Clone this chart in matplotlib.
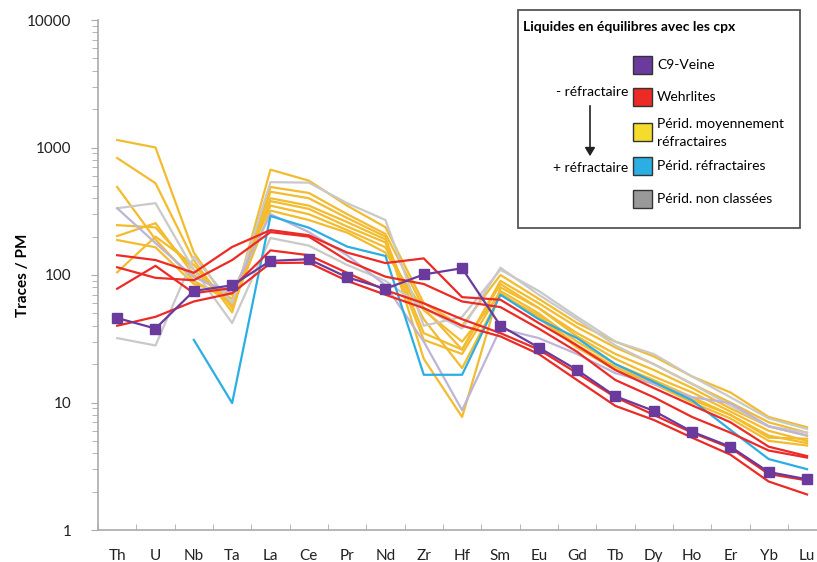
import numpy as np
import matplotlib
matplotlib.use("Agg")
from matplotlib import pyplot as plt
from matplotlib.patches import Rectangle, FancyArrowPatch

plt.rcParams['font.family'] = ['Lato', 'DejaVu Sans']

elements = ["Th", "U", "Nb", "Ta", "La", "Ce", "Pr", "Nd", "Zr", "Hf",
            "Sm", "Eu", "Gd", "Tb", "Dy", "Ho", "Er", "Yb", "Lu"]

# C9-Veine
veine = [46, 38, 75, 83, 129, 133, 96, 78, 101, 113, 40, 27, 18, 11.2, 8.6, 5.9, 4.5, 2.85, 2.5]

# Wehrlites
wehrlites = [
    [143, 131, 104, 166, 225, 205, 150, 124, 135, 67, 64, 42, 28, 18, 13, 9.5, 7, 4.5, 3.8],
    [115, 95, 91, 131, 217, 200, 130, 97, 85, 62, 56, 38, 25, 15, 11, 7.7, 5.8, 4.2, 3.7],
    [78, 118, 72, 79, 156, 143, 104, 76, 60, 45, 35, 26, 17, 11, 8, 5.8, 4.4, 2.75, 2.45],
    [40, 47, 62, 72, 124, 125, 90, 70, 55, 40, 33, 24, 15, 9.4, 7.3, 5.3, 3.9, 2.4, 1.9],
]

# Périd. moyennement réfractaires
moyens = [
    [1145, 1000, 150, 55, 670, 550, 350, 237, 60, 40, 100, 65, 42, 30, 23, 16, 12, 7.7, 6.4],
    [827, 525, 130, 51, 490, 440, 300, 210, 55, 26, 90, 60, 39, 27, 20, 14, 10, 7, 5.8],
    [490, 190, 90, 61, 450, 400, 280, 200, 22, 7.7, 80, 55, 35, 24, 18, 13, 9, 6.5, 5.5],
    [246, 236, 110, 58, 400, 350, 260, 190, 35, 26, 85, 55, 33, 22, 16, 12, 8.5, 6, 5],
    [202, 255, 100, 65, 380, 330, 240, 180, 31, 24, 75, 50, 30, 20, 15, 11, 8, 5.5, 4.8],
    [188, 165, 85, 70, 350, 300, 225, 165, 45, 18.6, 70, 48, 28, 19, 14, 10, 7.5, 5, 4.6],
    [105, 200, 120, 56, 320, 270, 215, 150, 53, 30, 72, 46, 27, 18, 14, 10.5, 8, 5.3, 5.2],
]

# Périd. réfractaires
refractaires = [np.nan, np.nan, 31, 9.9, 290, 235, 167, 141, 16.5, 16.5,
                70, 45, 32, 20, 14.5, 10.4, 6.1, 3.6, 3.0]

# Périd. non classées
non_classees = [
    [334, 366, 110, 42, 195, 170, 120, 90, 55, 38, 114, 70, 45, 28, 20, 14, 9.5, 6.5, 5.8],
    [32, 28, 139, 60, 535, 530, 366, 270, 40, 47, 110, 75, 47, 30, 24, 16, 11, 7.5, 6.2],
]
lavande = [334, 178, 96, 72, 300, 217, 143, 83, 30, 8.7, 38, 32, 24, 17, 14, 11, 9.9, 6.5, 5.5]

c_purple = "#6A3A9C"
c_red = "#EC2A26"
c_yellow = "#F3BB2E"
c_blue = "#2AAEE3"
c_gray = "#C9C9C9"
c_lav = "#BDB4D8"

W, H = 817, 562
fig = plt.figure(figsize=(W / 100, H / 100), dpi=100)


def fx(x):
    return x / W


def fy(y):
    return 1 - y / H


ax = fig.add_axes([fx(98), fy(530), fx(817) - fx(98), fy(20) - fy(530)])
x = np.arange(len(elements))

for s in moyens:
    ax.plot(x, s, color=c_yellow, lw=1.6)
for s in non_classees:
    ax.plot(x, s, color=c_gray, lw=1.6)
ax.plot(x, lavande, color=c_lav, lw=1.6)
ax.plot(x, refractaires, color=c_blue, lw=1.6)
for s in wehrlites:
    ax.plot(x, s, color=c_red, lw=1.6)
ax.plot(x, veine, color=c_purple, lw=1.6, marker="s", markersize=7.5)

ax.set_yscale("log")
ax.set_ylim(1, 10000)
ax.set_xlim(-0.5, 18.26)
ax.set_xticks(x)
ax.set_xticklabels(elements, fontsize=11, color="#222222")
ax.set_xticks(np.arange(-0.5, 18.5, 1), minor=True)
ax.tick_params(axis="x", which="major", length=0, pad=14)
ax.tick_params(axis="x", which="minor", length=4, color="#AAAAAA", direction="in")
ax.set_yticks([1, 10, 100, 1000, 10000])
ax.set_yticklabels(["1", "10", "100", "1000", "10000"], fontsize=11, color="#222222")
ax.tick_params(axis="y", which="major", length=5, color="#AAAAAA", pad=14)
ax.tick_params(axis="y", which="minor", length=4, color="#AAAAAA")
for side in ["top", "right"]:
    ax.spines[side].set_visible(False)
for side in ["left", "bottom"]:
    ax.spines[side].set_color("#AAAAAA")
    ax.spines[side].set_linewidth(1.2)
ax.set_ylabel("Traces / PM", fontsize=11, fontweight="bold")
ax.yaxis.set_label_coords((30 - 98) / (817 - 98), 0.5)

# legend box
fig.patches.append(Rectangle((fx(518), fy(228)), fx(800) - fx(518), fy(10) - fy(228),
                             transform=fig.transFigure, facecolor="white",
                             edgecolor="#555555", lw=1.3, zorder=5))
fig.text(fx(523), fy(27), "Liquides en équilibres avec les cpx", fontsize=10,
         fontweight="bold", va="center", ha="left", zorder=6)

legend_items = [
    (c_purple, ["C9-Veine"], 65),
    (c_red, ["Wehrlites"], 97),
    ("#F5DB2C", ["Périd. moyennement", "réfractaires"], 132),
    (c_blue, ["Périd. réfractaires"], 166),
    ("#999999", ["Périd. non classées"], 199),
]
for col, lines, yc in legend_items:
    fig.patches.append(Rectangle((fx(633), fy(yc + 9)), fx(652) - fx(633), fy(yc - 9) - fy(yc + 9),
                                 transform=fig.transFigure, facecolor=col,
                                 edgecolor="#333333", lw=1.0, zorder=6))
    if len(lines) == 1:
        fig.text(fx(657), fy(yc), lines[0], fontsize=10, va="center", ha="left", zorder=7)
    else:
        fig.text(fx(657), fy(yc - 8), lines[0], fontsize=10, va="center", ha="left", zorder=7)
        fig.text(fx(657), fy(yc + 10), lines[1], fontsize=10, va="center", ha="left", zorder=7)

fig.text(fx(628), fy(92), "- réfractaire", fontsize=10, va="center", ha="right", zorder=7)
fig.text(fx(628), fy(168), "+ réfractaire", fontsize=10, va="center", ha="right", zorder=7)
fig.add_artist(FancyArrowPatch(
    (fx(590), fy(103)), (fx(590), fy(159)), transform=fig.transFigure,
    arrowstyle="-|>,head_length=5,head_width=3", color="#222222", lw=1.2, zorder=7))

fig.savefig("out.png", dpi=100)
